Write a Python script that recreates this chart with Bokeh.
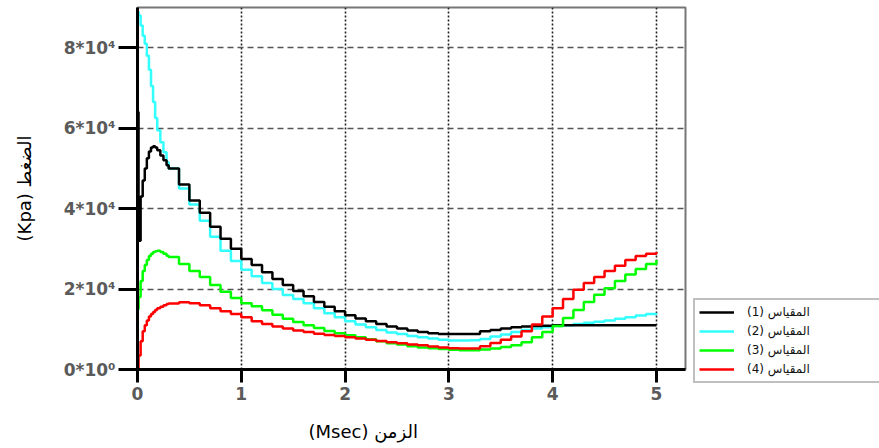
from bokeh.plotting import figure
from bokeh.models import Range1d, FixedTicker, Legend, LegendItem, Title
from bokeh.embed import file_html
from bokeh.resources import INLINE

# time (Msec)
time_ms = [0, 0, 0.01, 0.03, 0.05, 0.07, 0.09, 0.11, 0.13, 0.15, 0.17, 0.19,
           0.22, 0.25, 0.28,
           0.3, 0.4, 0.5, 0.6, 0.7, 0.8, 0.9, 1.0,
           1.1, 1.2, 1.3, 1.4, 1.5, 1.6, 1.7, 1.8, 1.9, 2.0,
           2.1, 2.2, 2.3, 2.4, 2.5, 2.6, 2.7, 2.8, 2.9, 3.0,
           3.1, 3.2, 3.3, 3.4, 3.5, 3.6, 3.7, 3.8, 3.9, 4.0,
           4.1, 4.2, 4.3, 4.4, 4.5, 4.6, 4.7, 4.8, 4.9, 5.0]

# pressure in units of 10^4 kPa
gauge1 = [0, 6.4, 3.2, 4.3, 4.7, 5.0, 5.25, 5.42, 5.52, 5.55, 5.52, 5.45,
          5.32, 5.2, 5.08,
          5.0, 4.6, 4.2, 3.9, 3.55, 3.25, 3.0, 2.75,
          2.6, 2.42, 2.25, 2.1, 1.95, 1.82, 1.68, 1.56, 1.45, 1.35,
          1.27, 1.2, 1.13, 1.07, 1.02, 0.97, 0.93, 0.9, 0.88, 0.88,
          0.88, 0.88, 0.95, 0.98, 1.02, 1.05, 1.07, 1.08, 1.09, 1.1,
          1.1, 1.1, 1.1, 1.1, 1.1, 1.1, 1.1, 1.1, 1.1, 1.1]
gauge2 = [0, 8.9, 8.8, 8.55, 8.3, 8.1, 7.8, 7.45, 7.05, 6.65, 6.25, 5.95,
          5.65, 5.4, 5.15,
          5.0, 4.5, 4.1, 3.7, 3.3, 2.95, 2.7, 2.48,
          2.32, 2.15, 2.0, 1.85, 1.75, 1.65, 1.52, 1.4, 1.3, 1.2,
          1.12, 1.05, 0.98, 0.92, 0.88, 0.83, 0.8, 0.77, 0.74, 0.72,
          0.72, 0.73, 0.76, 0.82, 0.87, 0.93, 0.98, 1.02, 1.05, 1.08,
          1.1, 1.13, 1.16, 1.19, 1.22, 1.26, 1.3, 1.34, 1.38, 1.4]
gauge3 = [0, 1.5, 1.8, 2.2, 2.45, 2.6, 2.72, 2.82, 2.88, 2.92, 2.94, 2.95,
          2.92, 2.88, 2.83,
          2.8, 2.62, 2.45, 2.3, 2.1, 1.93, 1.78, 1.65,
          1.57, 1.47, 1.36, 1.26, 1.18, 1.1, 1.03, 0.96, 0.9, 0.85,
          0.8, 0.75, 0.7, 0.65, 0.62, 0.58, 0.55, 0.53, 0.51, 0.49,
          0.48, 0.48, 0.5, 0.52, 0.56, 0.6, 0.68, 0.8, 0.93, 1.08,
          1.28, 1.48, 1.68, 1.86, 2.02, 2.2, 2.36, 2.5, 2.62, 2.72]
gauge4 = [0, 0, 0.35, 0.7, 0.95, 1.1, 1.22, 1.32, 1.38, 1.43, 1.48, 1.52,
          1.56, 1.6, 1.63,
          1.64, 1.67, 1.65, 1.6, 1.52, 1.45, 1.38, 1.3,
          1.2, 1.13, 1.07, 1.02, 0.97, 0.93, 0.89, 0.86, 0.83, 0.8,
          0.77, 0.74, 0.71, 0.68, 0.65, 0.62, 0.6, 0.57, 0.55, 0.53,
          0.52, 0.52, 0.58, 0.66, 0.74, 0.82, 0.95, 1.12, 1.32, 1.52,
          1.75, 1.98, 2.15, 2.3, 2.45, 2.58, 2.72, 2.82, 2.88, 2.92]

series_labels = ["(1) المقياس", "(2) المقياس", "(3) المقياس", "(4) المقياس"]
series_colors = ["#000000", "#33FFFF", "#00FF00", "#FF0000"]

x_ticks = [0, 1, 2, 3, 4, 5]
y_ticks = [0, 2, 4, 6, 8]
y_tick_labels = ["0*10\u2070", "2*10\u2074", "4*10\u2074", "6*10\u2074", "8*10\u2074"]

x_title = "(Msec) الزمن"
y_title = "(Kpa) الضغط"

p = figure(frame_width=548, frame_height=362, output_backend="svg",
           toolbar_location=None,
           x_range=Range1d(0, 5.28), y_range=Range1d(0, 9.0),
           min_border_left=137, min_border_right=192, min_border_top=7,
           min_border_bottom=76)
p.background_fill_color = "white"
p.border_fill_color = "white"
p.outline_line_color = "#777777"
p.outline_line_width = 2

# axes
for ax in (p.xaxis, p.yaxis):
    ax.axis_line_color = "black"
    ax.axis_line_width = 3
    ax.major_tick_line_color = "black"
    ax.major_tick_line_width = 3
    ax.major_tick_in = 0
    ax.minor_tick_line_color = None
    ax.major_label_text_font = "DejaVu Sans"
    ax.major_label_text_font_style = "bold"
    ax.major_label_text_font_size = "17px"
    ax.major_label_text_color = "#5a5a5a"

p.xaxis.ticker = FixedTicker(ticks=x_ticks)
p.xaxis.major_tick_out = 13
p.xaxis.major_label_standoff = 4
p.yaxis.ticker = FixedTicker(ticks=y_ticks)
p.yaxis.major_tick_out = 19
p.yaxis.major_label_standoff = 3
p.yaxis.major_label_overrides = {t: lab for t, lab in zip(y_ticks, y_tick_labels)}

p.yaxis.axis_label = y_title
p.yaxis.axis_label_text_font = "DejaVu Sans"
p.yaxis.axis_label_text_font_style = "normal"
p.yaxis.axis_label_text_font_size = "18px"
p.yaxis.axis_label_text_color = "black"
p.yaxis.axis_label_standoff = 26

# grids
p.xgrid.ticker = FixedTicker(ticks=x_ticks[1:])
p.xgrid.grid_line_color = "#222222"
p.xgrid.grid_line_width = 1.6
p.xgrid.grid_line_dash = "2 2"
p.ygrid.ticker = FixedTicker(ticks=y_ticks[1:])
p.ygrid.grid_line_color = "#555555"
p.ygrid.grid_line_width = 1.5
p.ygrid.grid_line_dash = "6 4"

series = [gauge1, gauge2, gauge3, gauge4]
renderers = [None] * 4
for idx in [1, 0, 2, 3]:
    renderers[idx] = p.step(time_ms, series[idx], mode="after",
                            line_color=series_colors[idx], line_width=2.5)

legend = Legend(items=[LegendItem(label=lab, renderers=[r])
                       for lab, r in zip(series_labels, renderers)],
                location=(8, -14))
legend.label_text_font = "DejaVu Sans"
legend.label_text_font_size = "12px"
legend.label_text_color = "#111111"
legend.glyph_width = 35
legend.glyph_height = 16
legend.label_height = 16
legend.label_width = 130
legend.label_standoff = 13
legend.spacing = 3
legend.padding = 4
legend.margin = 0
legend.border_line_color = "#808080"
legend.border_line_width = 2
legend.background_fill_color = "white"
legend.background_fill_alpha = 1
p.add_layout(legend, "right")

p.add_layout(Title(text=x_title, align="left", offset=171,
                   text_font="DejaVu Sans", text_font_style="normal",
                   text_font_size="18px", text_color="black", standoff=33),
             "below")

open("out.html", "w").write(file_html(p, INLINE))
